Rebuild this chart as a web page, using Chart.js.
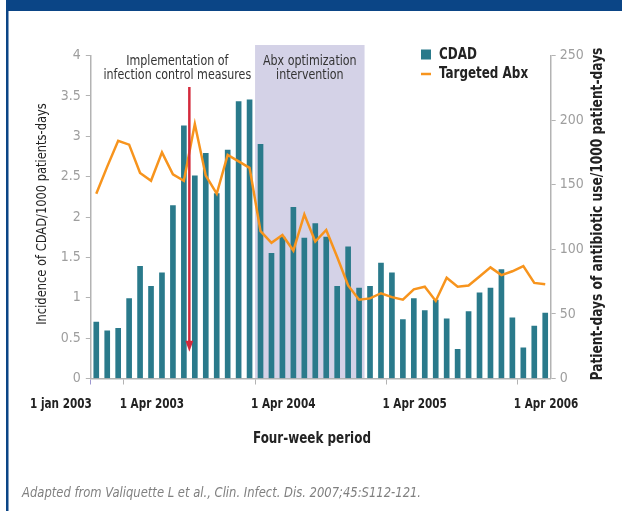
<!DOCTYPE html>
<html>
<head>
<meta charset="utf-8">
<script src="https://cdn.jsdelivr.net/npm/chart.js@4.4.1/dist/chart.umd.min.js"></script>
<style>
  html, body { margin: 0; padding: 0; background: #fff; }
  #wrap { position: relative; width: 622px; height: 511px; }
</style>
</head>
<body>
<div id="wrap"><canvas id="chart"></canvas></div>
<script>
// --- Données ---
const periods = [1, 2, 3, 4, 5, 6, 7, 8, 9, 10, 11, 12, 13, 14, 15, 16, 17, 18, 19, 20, 21,
                 22, 23, 24, 25, 26, 27, 28, 29, 30, 31, 32, 33, 34, 35, 36, 37, 38, 39, 40, 41, 42];
const cdad = [0.70, 0.59, 0.62, 0.99, 1.39, 1.14, 1.31, 2.14, 3.13, 2.51, 2.79, 2.29, 2.83, 3.43,
              3.45, 2.90, 1.55, 1.75, 2.12, 1.74, 1.92, 1.75, 1.14, 1.63, 1.12, 1.14, 1.43, 1.31,
              0.73, 0.99, 0.84, 0.97, 0.74, 0.36, 0.83, 1.06, 1.12, 1.35, 0.75, 0.38, 0.65, 0.81];
const targetedAbx = [143, 164, 184, 181, 159, 153, 175, 158, 153, 197, 157, 143, 173, 168,
                     163, 114, 105, 111, 99, 127, 106, 115, 94, 72, 61, 62, 66, 63,
                     61, 69, 71, 60, 78, 71, 72, 79, 86, 80, 83, 87, 74, 73];
const xTickValues = [0, 3, 15, 27, 39];
const xTickLabels = ['1 jan 2003', '1 Apr 2003', '1 Apr 2004', '1 Apr 2005', '1 Apr 2006'];

// annotations
const interventionAt = 9;            // flèche rouge
const abxStart = 15, abxEnd = 25;    // zone "Abx optimization"

const FONT = "'Liberation Sans Narrow', 'DejaVu Sans Condensed', 'Roboto', sans-serif";
const TEAL = '#2a7a8b', ORANGE = '#f7941d', RED = '#d42a3c', SHADE = '#d4d2e7';
const NAVY = '#0b4586', GRID = '#b3b3b3', TICK = '#9e9e9e', INK = '#222';

// texte "condensé" : on resserre horizontalement (sx) pour imiter la police d'origine
function txt(ctx, s, x, y, size, opts = {}) {
    ctx.save();
    ctx.font = (opts.style || 'normal') + ' ' + (opts.weight || 'normal') + ' ' + size + 'px ' + FONT;
    ctx.fillStyle = opts.color || INK;
    ctx.textAlign = opts.align || 'center';
    ctx.textBaseline = 'middle';
    ctx.translate(x, y);
    if (opts.rot) ctx.rotate(opts.rot);
    ctx.scale(opts.sx || 1, 1);
    ctx.fillText(s, 0, 0);
    ctx.restore();
}

const decor = {
    id: 'decor',
    beforeDraw(chart) {
        const { ctx, chartArea, scales: { x, y } } = chart;
        ctx.save();
        ctx.fillStyle = '#fff';
        ctx.fillRect(0, 0, chart.width, chart.height);
        ctx.fillStyle = NAVY;
        ctx.fillRect(6, 0, chart.width - 6, 11);
        ctx.fillRect(6, 0, 2.5, chart.height);
        // zone d'intervention
        const x0 = x.getPixelForValue(abxStart), x1 = x.getPixelForValue(abxEnd);
        const top = y.getPixelForValue(4.13);
        ctx.fillStyle = SHADE;
        ctx.fillRect(x0, top, x1 - x0, chartArea.bottom - top);
        ctx.restore();
    },
    afterDatasetsDraw(chart) {
        const { ctx, scales: { x, y } } = chart;
        const ax = x.getPixelForValue(interventionAt);
        const yTop = y.getPixelForValue(3.61), yTip = y.getPixelForValue(0.33);
        ctx.save();
        ctx.strokeStyle = RED;
        ctx.fillStyle = RED;
        ctx.lineWidth = 2.5;
        ctx.beginPath();
        ctx.moveTo(ax, yTop);
        ctx.lineTo(ax, yTip - 9);
        ctx.stroke();
        ctx.beginPath();
        ctx.moveTo(ax - 4, yTip - 11);
        ctx.lineTo(ax + 4, yTip - 11);
        ctx.lineTo(ax, yTip);
        ctx.closePath();
        ctx.fill();
        ctx.restore();
    },
    afterDraw(chart) {
        const { ctx, chartArea, scales: { x, y } } = chart;
        // textes d'annotation
        const ax = x.getPixelForValue(interventionAt) - 12;
        const note = { color: '#333', sx: 0.88 };
        txt(ctx, 'Implementation of', ax, 61, 14, note);
        txt(ctx, 'infection control measures', ax, 75, 14, note);
        const sx = (x.getPixelForValue(abxStart) + x.getPixelForValue(abxEnd)) / 2;
        txt(ctx, 'Abx optimization', sx, 61, 14, note);
        txt(ctx, 'intervention', sx, 75, 14, note);

        // légende
        ctx.save();
        ctx.fillStyle = TEAL;
        ctx.fillRect(421, 49.5, 10, 10);
        ctx.strokeStyle = ORANGE;
        ctx.lineWidth = 2.5;
        ctx.beginPath();
        ctx.moveTo(421, 74);
        ctx.lineTo(431, 74);
        ctx.stroke();
        ctx.restore();
        txt(ctx, 'CDAD', 439, 54.5, 16, { weight: 'bold', align: 'left', sx: 0.83 });
        txt(ctx, 'Targeted Abx', 439, 74, 16, { weight: 'bold', align: 'left', sx: 0.83 });

        // étiquettes de l'axe x
        xTickValues.forEach((v, i) => {
            const px = x.getPixelForValue(v);
            if (i === 0) txt(ctx, xTickLabels[i], px + 1, 404, 14, { weight: 'bold', align: 'right', sx: 0.83 });
            else txt(ctx, xTickLabels[i], px - 4, 404, 14, { weight: 'bold', align: 'left', sx: 0.83 });
        });

        // titres des axes
        const midY = (chartArea.top + chartArea.bottom) / 2;
        txt(ctx, 'Four-week period', 312, 439, 16, { weight: 'bold', sx: 0.83 });
        txt(ctx, 'Incidence of CDAD/1000 patients-days', 42, midY - 3, 14.5,
            { rot: -Math.PI / 2, sx: 0.88 });
        txt(ctx, 'Patient-days of antibiotic use/1000 patient-days', 598, midY - 3, 16,
            { weight: 'bold', rot: -Math.PI / 2, sx: 0.85 });

        // source
        txt(ctx, 'Adapted from Valiquette L et al., Clin. Infect. Dis. 2007;45:S112-121.', 22, 493, 14,
            { style: 'italic', color: '#808080', align: 'left', sx: 0.92 });
    }
};

new Chart(document.getElementById('chart'), {
    type: 'bar',
    data: {
        datasets: [
            {
                type: 'line', label: 'Targeted Abx', yAxisID: 'y1', order: 0,
                data: periods.map((p, i) => ({ x: p - 0.5, y: targetedAbx[i] })),
                borderColor: ORANGE, borderWidth: 2.5, pointRadius: 0, tension: 0
            },
            {
                type: 'bar', label: 'CDAD', yAxisID: 'y', order: 1,
                data: periods.map((p, i) => ({ x: p - 0.5, y: cdad[i] })),
                backgroundColor: TEAL, barThickness: 5
            }
        ]
    },
    options: {
        responsive: true, maintainAspectRatio: false, animation: false,
        layout: { padding: { top: 55.5, left: 0, right: 0, bottom: 0 } },
        plugins: { legend: { display: false }, tooltip: { enabled: false } },
        scales: {
            x: {
                type: 'linear', min: 0, max: 42, offset: false,
                afterBuildTicks: s => { s.ticks = xTickValues.map(v => ({ value: v })); },
                afterFit: s => { s.height = 132.5; },
                grid: { drawOnChartArea: false, tickLength: 6, offset: false,
                        color: c => c.index === 0 ? '#9d97cf' : GRID },
                border: { color: GRID, width: 1.5 },
                ticks: { display: false }
            },
            y: {
                position: 'left', min: 0, max: 4,
                afterFit: s => { s.width = 90.8; },
                grid: { drawOnChartArea: false, tickLength: 5, color: GRID },
                border: { color: GRID, width: 1.5 },
                ticks: { stepSize: 0.5, color: TICK, padding: 5, font: { family: FONT, size: 14 },
                         callback: v => String(v) }
            },
            y1: {
                position: 'right', min: 0, max: 250,
                afterFit: s => { s.width = 71.3; },
                grid: { drawOnChartArea: false, tickLength: 5, color: GRID },
                border: { color: GRID, width: 1.5 },
                ticks: { stepSize: 50, color: TICK, padding: 4, font: { family: FONT, size: 14 },
                         callback: v => String(v) }
            }
        }
    },
    plugins: [decor]
});
</script>
</body>
</html>
